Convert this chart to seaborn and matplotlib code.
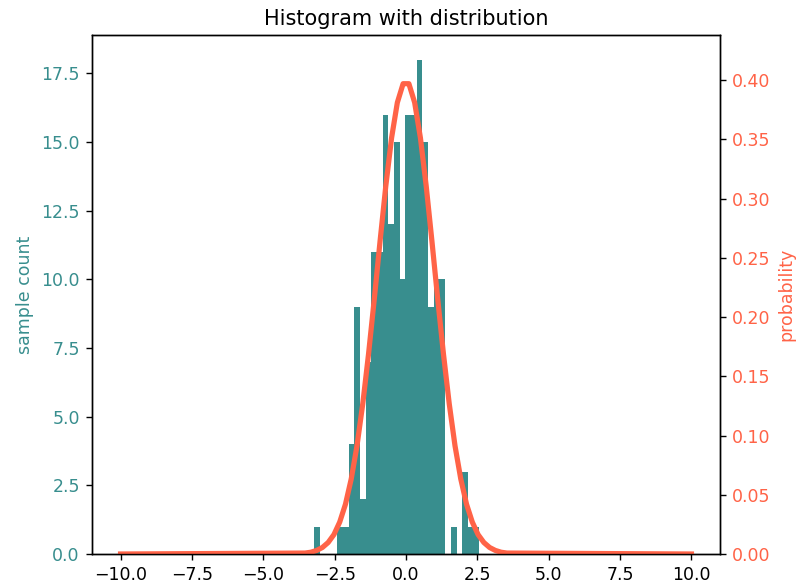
import numpy as np
import pandas as pd
import seaborn as sns
import matplotlib
matplotlib.use("Agg")
import matplotlib.pyplot as plt

# --- data ------------------------------------------------------------------
# histogram: 29 equal bins between these limits, counts per bin
bin_lo, bin_hi = -3.21, 2.57
counts = [1, 0, 0, 0, 1, 1, 4, 9, 2, 7, 11, 11, 16, 12, 15,
          10, 16, 16, 18, 15, 9, 10, 10, 0, 1, 0, 3, 1, 1]

# distribution curve (probability), sampled points
curve_x = [-10.0, -3.535, -3.333, -3.131, -2.929, -2.727, -2.525, -2.323,
           -2.121, -1.919, -1.717, -1.515, -1.313, -1.111, -0.909, -0.707,
           -0.505, -0.303, -0.101, 0.101, 0.303, 0.505, 0.707, 0.909, 1.111,
           1.313, 1.515, 1.717, 1.919, 2.121, 2.323, 2.525, 2.727, 2.929,
           3.131, 3.333, 3.535, 10.0]
curve_p = [0.0, 0.0008, 0.0015, 0.003, 0.0055, 0.0097, 0.0164, 0.0269,
           0.042, 0.0633, 0.0913, 0.1267, 0.1686, 0.2152, 0.2639, 0.3107,
           0.3512, 0.381, 0.3969, 0.3969, 0.381, 0.3512, 0.3107, 0.2639,
           0.2152, 0.1686, 0.1267, 0.0913, 0.0633, 0.042, 0.0269, 0.0164,
           0.0097, 0.0055, 0.003, 0.0015, 0.0008, 0.0]

HIST_COLOR = "#388E8E"
LINE_COLOR = "tomato"

# --- plot ------------------------------------------------------------------
edges = np.linspace(bin_lo, bin_hi, len(counts) + 1)
hist_df = pd.DataFrame({"x": (edges[:-1] + edges[1:]) / 2, "n": counts})
curve_df = pd.DataFrame({"x": curve_x, "p": curve_p})

fig = plt.figure(figsize=(797 / 125, 588 / 125), dpi=125)
ax = fig.add_axes([92 / 797, 1 - 554 / 588, (720 - 92) / 797, (554 - 35) / 588])

sns.histplot(data=hist_df, x="x", weights="n", bins=len(counts),
             binrange=(bin_lo, bin_hi), ax=ax,
             color=HIST_COLOR, alpha=1, linewidth=0)
ax.set_xlabel("")
ax.set_ylabel("sample count", color=HIST_COLOR)
ax.tick_params(axis="y", labelcolor=HIST_COLOR)
ax.set_xlim(-11, 11)
ax.set_ylim(0, 18.9)

ax2 = ax.twinx()
sns.lineplot(data=curve_df, x="x", y="p", ax=ax2, color=LINE_COLOR, linewidth=3)
ax2.set_ylabel("probability", color=LINE_COLOR)
ax2.tick_params(axis="y", labelcolor=LINE_COLOR)
ax2.set_ylim(0, 0.438)

ax.set_title("Histogram with distribution")

plt.savefig("out.png", dpi=125)
